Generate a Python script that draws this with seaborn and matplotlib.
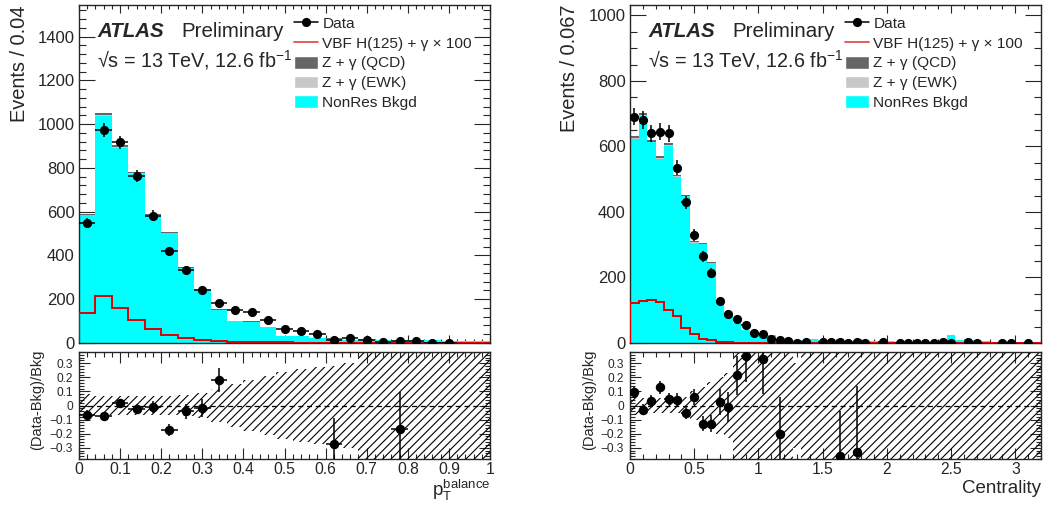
import numpy as np
import pandas as pd
import matplotlib
matplotlib.use("Agg")
import matplotlib.pyplot as plt
import seaborn as sns
from matplotlib.lines import Line2D
from matplotlib.patches import Patch
from matplotlib.ticker import MultipleLocator, FixedLocator, FuncFormatter

# ---------------- data: left panel (pT balance, 25 bins of 0.04) ----------------
left_edges = np.round(np.arange(0, 1.0001, 0.04), 4)
left_data = np.array([550, 973, 917, 764, 582, 420, 333, 243, 182, 149, 142, 104, 62, 53, 40,
                      15, 22, 12, 5, 10, 9, 1, 1, 0, 0], dtype=float)
left_nonres = np.array([583.5, 1039.5, 892, 774, 581.5, 504, 343, 244.4, 151.5, 98.7, 97.7, 71.8,
                        30.4, 30.4, 24.6, 20.3, 14.7, 19.7, 13.8, 11.8, 14.8, 11.8, 10, 10, 9])
left_qcd = np.array([6, 10, 9, 7, 5, 4, 3, 2, 2, 1, 1, 1, 0.5, 0.5, 0.3, 0.3, 0.2, 0.2, 0.1, 0.1,
                     0.1, 0.1, 0, 0, 0])
left_ewk = np.array([1.5, 2.5, 2, 2, 1.5, 1, 1, 0.6, 0.5, 0.3, 0.3, 0.2, 0.1, 0.1, 0.1, 0.1, 0.1,
                     0.1, 0.1, 0.1, 0.1, 0.1, 0, 0, 0])
left_vbf = np.array([137, 215, 159, 104, 66, 37, 25, 15, 9, 6, 5, 4, 3, 2, 2, 1.5, 1, 1, 1, 0.5,
                     0.5, 0.5, 0.3, 0.3, 0.3])
left_band = np.array([0.08, 0.07, 0.065, 0.065, 0.065, 0.07, 0.075, 0.09, 0.12, 0.15, 0.18, 0.21,
                      0.24, 0.26, 0.27, 0.28, 0.30, 0.5, 1, 1, 1, 1, 1, 1, 1])

# ---------------- data: right panel (Centrality, 48 bins of 0.0667) ----------------
right_edges = np.linspace(0, 3.2, 49)
right_data = np.array([691, 681, 640, 645, 640, 535, 429, 329, 265, 214, 128, 90, 74, 54, 30, 28,
                       11, 9, 6, 1, 3, 0, 3, 3, 4, 1, 2, 1, 0, 2, 0, 1, 1, 1, 1, 1, 2, 1, 0, 2,
                       1, 0, 0, 1, 1, 0, 1, 0], dtype=float)
right_nonres = np.array([624, 693, 613, 563, 603, 507.5, 447.5, 306, 301, 243, 123.5, 89.7, 60.3,
                         39.4, 20.7, 20.7, 23.7, 11.15, 10.85, 8.85, 7.85, 11.9, 7.9, 6.9, 6.2,
                         6, 3, 5, 5, 6, 5, 4, 4, 4, 4, 4, 5, 23, 8, 8, 8, 5, 3, 7, 7, 3, 3, 3])
right_qcd = np.array([6, 7, 6, 6, 6, 5, 4, 3, 3, 2, 1, 1, 0.5, 0.4, 0.2, 0.2, 0.2, 0.1, 0.1, 0.1,
                      0.1, 0.1, 0.1, 0.1, 0.05] + [0] * 23)
right_ewk = np.array([2, 2, 2, 2, 2, 1.5, 1.5, 1, 1, 1, 0.5, 0.3, 0.2, 0.2, 0.1, 0.1, 0.1, 0.05,
                      0.05, 0.05, 0.05] + [0] * 27)
right_vbf = np.array([123, 127, 130, 124, 100, 83, 47, 26, 11, 8, 4, 2, 1.5, 1, 0.5, 0.5, 0.3,
                      0.3, 0.2, 0.2] + [0.1] * 28)
right_band = np.array([0.07, 0.05, 0.05, 0.05, 0.05, 0.05, 0.06, 0.10, 0.13, 0.17, 0.20, 0.23,
                       0.45, 1, 1, 1, 1, 1, 1, 0.30] + [1] * 28)

# ---------------- text ----------------
legend_labels = ["Data", "VBF H(125) + \u03b3 \u00d7 100", "Z + \u03b3 (QCD)",
                 "Z + \u03b3 (EWK)", "NonRes Bkgd"]
comp_names = ["QCD", "EWK", "NonRes"]
comp_colors = {"QCD": "#666666", "EWK": "#c8c8c8", "NonRes": "#00ffff"}

sns.set_style("ticks")
plt.rcParams["font.family"] = ["Liberation Sans", "DejaVu Sans"]
plt.rcParams["mathtext.fontset"] = "custom"
plt.rcParams["mathtext.rm"] = "Liberation Sans"
plt.rcParams["mathtext.it"] = "Liberation Sans:italic"
plt.rcParams["mathtext.bf"] = "Liberation Sans:bold"
plt.rcParams["hatch.linewidth"] = 0.8
plt.rcParams["axes.linewidth"] = 1.0

W, H = 1047, 509
fig = plt.figure(figsize=(W / 100, H / 100), dpi=100)


def ax_px(l, t, r, b):
    return fig.add_axes([l / W, 1 - b / H, (r - l) / W, (b - t) / H])


def fmt(v, pos=None):
    if abs(v) < 1e-9:
        return "0"
    s = "%g" % round(v, 3)
    return s.replace("-", "\u2212")


def panel(x0, x1, edges, data, nonres, qcd, ewk, vbf, band, ymax, ymaj, ymin_, xmaj, xmin_,
          ylabel, xlabel, xlabel_size, xlabel_pad, ylab_x, rlab_x):
    axm = ax_px(x0, 5, x1, 343)
    axr = ax_px(x0, 352, x1, 459)
    n = len(data)
    centers = 0.5 * (edges[:-1] + edges[1:])
    hw = 0.5 * (edges[1] - edges[0])

    df = pd.DataFrame({
        "x": np.tile(centers, 3),
        "w": np.concatenate([qcd, ewk, nonres]),
        "comp": np.repeat(comp_names, n),
    })
    sns.histplot(data=df, x="x", weights="w", hue="comp", hue_order=comp_names,
                 multiple="stack", bins=n, binrange=(float(edges[0]), float(edges[-1])),
                 element="step", palette=comp_colors,
                 alpha=1, linewidth=0, legend=False, ax=axm)
    axm.stairs(vbf, edges, color="#dd0000", lw=1.4, zorder=3)
    m = data > 0
    axm.errorbar(centers[m], data[m], xerr=hw, yerr=np.sqrt(data[m]), fmt="o", color="k",
                 ms=5.6, elinewidth=1.1, capsize=0, zorder=4)
    axm.set_xlim(edges[0], edges[-1])
    axm.set_ylim(0, ymax)
    axm.yaxis.set_major_locator(MultipleLocator(ymaj))
    axm.yaxis.set_minor_locator(MultipleLocator(ymin_))
    axm.xaxis.set_major_locator(MultipleLocator(xmaj))
    axm.xaxis.set_minor_locator(MultipleLocator(xmin_))
    axm.yaxis.set_major_formatter(FuncFormatter(fmt))
    axm.tick_params(which="both", direction="in", top=True, right=True, labelbottom=False,
                    width=0.8, labelsize=12, pad=3)
    axm.tick_params(axis="y", which="major", length=11.5)
    axm.tick_params(axis="y", which="minor", length=5)
    axm.tick_params(axis="x", which="major", length=6)
    axm.tick_params(axis="x", which="minor", length=3)
    axm.set_xlabel("")
    axm.set_ylabel(ylabel, fontsize=14.4, loc="top")
    axm.yaxis.set_label_coords(ylab_x, 1.0)

    axm.text(0.044, 0.905, "ATLAS", fontsize=14.8, fontweight="bold", fontstyle="italic",
             transform=axm.transAxes)
    axm.text(0.25, 0.905, "Preliminary", fontsize=14.8, transform=axm.transAxes)
    axm.text(0.044, 0.817, "\u221as = 13 TeV, 12.6 fb$^{\\mathrm{-1}}$",
             fontsize=14.2, transform=axm.transAxes)

    handles = [Line2D([0], [0], color="k", marker="o", ms=5.6, lw=1.1),
               Line2D([0], [0], color="#e05050", lw=1.3),
               Patch(facecolor=comp_colors["QCD"]),
               Patch(facecolor=comp_colors["EWK"]),
               Patch(facecolor=comp_colors["NonRes"])]
    axm.legend(handles, legend_labels, loc="upper left", bbox_to_anchor=(0.523, 0.967),
               frameon=False, borderaxespad=0, borderpad=0, fontsize=11.1,
               handlelength=1.55, handleheight=0.9, handletextpad=0.3, labelspacing=0.33)

    # ratio panel
    bkg = nonres + qcd + ewk
    with np.errstate(divide="ignore", invalid="ignore"):
        r = data / bkg - 1
        rerr = np.sqrt(data) / bkg
    axr.stairs(band, edges, baseline=-band, fill=True, facecolor="none", edgecolor="k",
               hatch="////", linewidth=0, zorder=1)
    axr.axhline(0, color="k", lw=0.9, ls=(0, (4, 3)), zorder=2)
    mr = (data > 0) & (np.abs(r) < 0.38)
    axr.errorbar(centers[mr], r[mr], xerr=hw, yerr=rerr[mr], fmt="o", color="k", ms=5.8,
                 elinewidth=1.1, capsize=0, zorder=4)
    axr.set_xlim(edges[0], edges[-1])
    axr.set_ylim(-0.38, 0.38)
    axr.yaxis.set_major_locator(FixedLocator([-0.3, -0.2, -0.1, 0, 0.1, 0.2, 0.3]))
    axr.yaxis.set_minor_locator(MultipleLocator(0.02))
    axr.xaxis.set_major_locator(MultipleLocator(xmaj))
    axr.xaxis.set_minor_locator(MultipleLocator(xmin_))
    axr.yaxis.set_major_formatter(FuncFormatter(fmt))
    axr.xaxis.set_major_formatter(FuncFormatter(fmt))
    axr.tick_params(which="both", direction="in", top=True, right=True, width=0.8)
    axr.tick_params(axis="y", which="major", length=8, labelsize=8.6, pad=4.5)
    axr.tick_params(axis="y", which="minor", length=3.5)
    axr.tick_params(axis="x", which="major", length=8, labelsize=11.3, pad=2.5)
    axr.tick_params(axis="x", which="minor", length=3.5)
    axr.set_ylabel("(Data-Bkg)/Bkg", fontsize=10.5)
    axr.yaxis.set_label_coords(rlab_x, 0.55)
    axr.set_xlabel(xlabel, fontsize=xlabel_size, loc="right", labelpad=xlabel_pad)
    return axm, axr


panel(79, 490, left_edges, left_data, left_nonres, left_qcd, left_ewk, left_vbf, left_band,
      1545, 200, 40, 0.1, 0.02, "Events / 0.04", r"$\mathrm{p}_{\mathrm{T}}^{\mathrm{balance}}$",
      13.6, 0.5, -0.122, -0.085)
panel(630, 1041, right_edges, right_data, right_nonres, right_qcd, right_ewk, right_vbf,
      right_band, 1032, 200, 50, 0.5, 0.1, "Events / 0.067", "Centrality", 13.5, 2,
      -0.124, -0.083)

fig.savefig("out.png", dpi=100)
